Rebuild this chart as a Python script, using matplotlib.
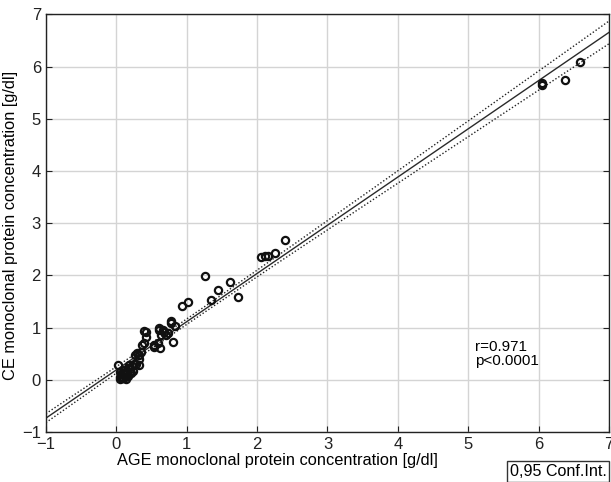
import numpy as np
import matplotlib
matplotlib.use("Agg")
import matplotlib.pyplot as plt

plt.rcParams['font.family'] = ['Liberation Sans', 'DejaVu Sans']

# AGE (x) vs CE (y) monoclonal protein concentration, g/dl
age = [0.03, 0.05, 0.06, 0.08, 0.10, 0.12, 0.07, 0.09, 0.13, 0.15, 0.11, 0.17,
       0.19, 0.20, 0.16, 0.22, 0.24, 0.05, 0.14, 0.21, 0.18, 0.25,
       0.28, 0.33, 0.32, 0.26, 0.30, 0.35, 0.33, 0.37, 0.40, 0.42, 0.39, 0.42,
       0.54, 0.59, 0.62, 0.54, 0.63, 0.61, 0.68, 0.73, 0.70, 0.78, 0.78, 0.84,
       0.80, 0.66, 0.61,
       0.93, 1.02, 1.26, 1.34, 1.44, 1.61, 1.73, 2.06, 2.11, 2.16, 2.25, 2.39,
       6.04, 6.05, 6.37, 6.58]
ce = [0.28, 0.05, 0.02, 0.04, 0.03, 0.06, 0.10, 0.13, 0.10, 0.14, 0.18, 0.08,
      0.15, 0.20, 0.22, 0.26, 0.17, 0.15, 0.02, 0.12, 0.28, 0.31,
      0.31, 0.29, 0.40, 0.47, 0.51, 0.54, 0.47, 0.67, 0.70, 0.81, 0.94, 0.92,
      0.67, 0.70, 0.60, 0.63, 0.86, 0.96, 0.92, 0.89, 0.86, 1.08, 1.12, 1.02,
      0.72, 0.96, 0.99,
      1.42, 1.49, 1.98, 1.53, 1.72, 1.87, 1.58, 2.35, 2.38, 2.38, 2.42, 2.67,
      5.64, 5.68, 5.74, 6.08]

x_ticks = [-1, 0, 1, 2, 3, 4, 5, 6, 7]
y_ticks = [-1, 0, 1, 2, 3, 4, 5, 6, 7]
r_text = "r=0.971\np<0.0001"
ci_label = "0,95 Conf.Int."

x = np.array(age)
y = np.array(ce)
n = len(x)
slope, intercept = np.polyfit(x, y, 1)
resid = y - (slope * x + intercept)
s = np.sqrt(np.sum(resid ** 2) / (n - 2))
sxx = np.sum((x - x.mean()) ** 2)
t = 1.996

xx = np.linspace(-1, 7, 200)
yy = slope * xx + intercept
se = s * np.sqrt(1.0 / n + (xx - x.mean()) ** 2 / sxx)

fig = plt.figure(figsize=(6.11, 4.82), dpi=100)
ax = fig.add_axes([0.075, 0.104, 0.922, 0.866])

ax.grid(True, color='#d4d4d4', lw=1)
ax.set_axisbelow(True)
ax.plot(xx, yy, color='#2a2a2a', lw=1)
ax.plot(xx, yy + t * se, color='#222222', lw=1, ls=(0, (1, 1.5)))
ax.plot(xx, yy - t * se, color='#222222', lw=1, ls=(0, (1, 1.5)))
ax.plot(x, y, 'o', mfc='none', mec='#111111', mew=1.6, ms=5.2)

ax.set_xlim(-1, 7)
ax.set_ylim(-1, 7)
ax.set_xticks(x_ticks)
ax.set_yticks(y_ticks)
ax.tick_params(direction='in', length=4, labelsize=12, right=True, colors='#222222')
for sp in ax.spines.values():
    sp.set_color('#222222')
    sp.set_linewidth(1)

ax.set_xlabel("AGE monoclonal protein concentration [g/dl]", fontsize=11.8)
ax.set_ylabel("CE monoclonal protein concentration [g/dl]", fontsize=11.8)
ax.xaxis.set_label_coords(0.412, -0.05)
ax.yaxis.set_label_coords(-0.05, 0.495)

ax.text(5.1, 0.5, r_text, fontsize=11, ha='left', va='center', linespacing=1.0)

fig.text(0.834, 0.006, ci_label, fontsize=11.6, ha='left', va='bottom',
         bbox=dict(boxstyle='square,pad=0.18', fc='white', ec='#333333', lw=1))

fig.savefig("out.png", dpi=100)
